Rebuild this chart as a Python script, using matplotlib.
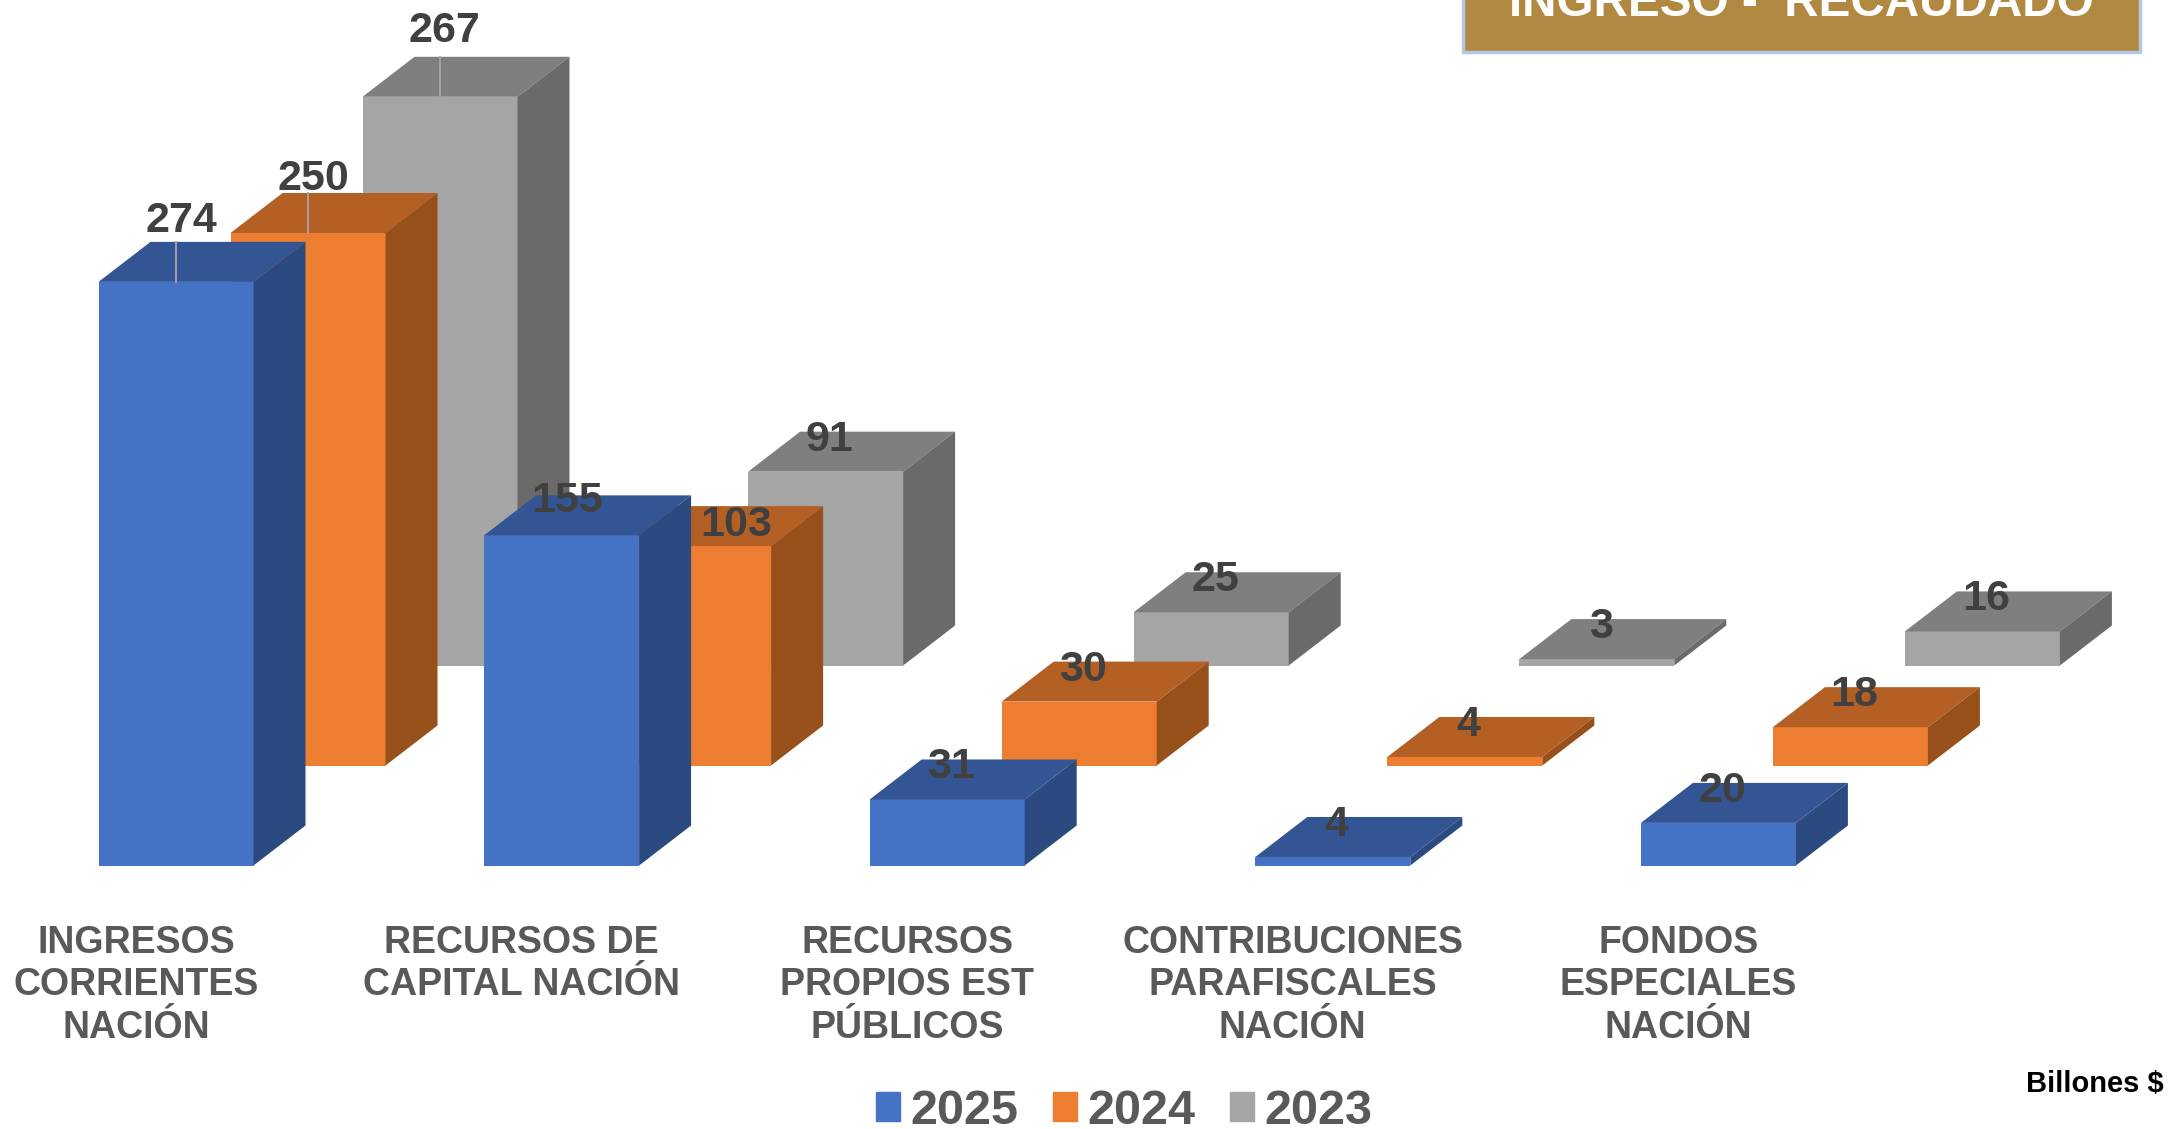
import matplotlib
matplotlib.use('Agg')
import numpy as np
import matplotlib.pyplot as plt
from matplotlib.patches import Patch, Rectangle

plt.rcParams['font.family'] = ['Liberation Sans', 'DejaVu Sans']

categorias = ['INGRESOS\nCORRIENTES\nNACIÓN', 'RECURSOS DE\nCAPITAL NACIÓN',
              'RECURSOS\nPROPIOS EST\nPÚBLICOS', 'CONTRIBUCIONES\nPARAFISCALES\nNACIÓN',
              'FONDOS\nESPECIALES\nNACIÓN']
anios = ['2025', '2024', '2023']
v2025 = [274, 155, 31, 4, 20]
v2024 = [250, 103, 30, 4, 18]
v2023 = [267, 91, 25, 3, 16]
titulo = 'INGRESO -  RECAUDADO'
unidad = 'Billones $'

W, H = 2183, 1129
px_x = 385.6    # pixels per category
px_y = 2.13     # pixels per billion
x0, y0 = 176, 865.5  # where category 0, value 0 of the front series falls

ancho = 155 / px_x
dx = 52 / px_x   # depth of the fake 3d
dy = 40 / px_y
paso_x = 132 / px_x   # shift between series
paso_y = 100 / px_y

colores = [('#4472C4', '#335593', '#2B4A80'),
           ('#ED7D31', '#B46024', '#98501B'),
           ('#A5A5A5', '#7F7F7F', '#6A6A6A')]

fig = plt.figure(figsize=(W / 100, H / 100), dpi=100)
ax = fig.add_axes([0, 0, 1, 1])
ax.set_xlim(-x0 / px_x, (W - x0) / px_x)
ax.set_ylim(-(H - y0) / px_y, y0 / px_y)
ax.axis('off')

series = [v2025, v2024, v2023]
# label nudges (dx, extra height) in pixels, for the labels moved by hand in the original
ajustes = {(0, 0): (5, 29), (1, 0): (5, 22), (2, 0): (4, 34), (1, 1): (43, -11), (0, 1): (6, 2)}

# back series first so the front one covers it
for s in [2, 1, 0]:
    frente, arriba, lado = colores[s]
    xs = np.arange(len(categorias)) + s * paso_x
    base = s * paso_y
    vals = np.array(series[s])
    ax.bar(xs, vals, ancho, bottom=base, color=frente, zorder=3 + (2 - s))
    for x, v in zip(xs, vals):
        iz, de = x - ancho / 2, x + ancho / 2
        techo = base + v
        ax.fill([iz, de, de + dx, iz + dx], [techo, techo, techo + dy, techo + dy],
                color=arriba, lw=0, zorder=3 + (2 - s))
        ax.fill([de, de + dx, de + dx, de], [base, base + dy, techo + dy, techo],
                color=lado, lw=0, zorder=3 + (2 - s))

for s in range(3):
    xs = np.arange(len(categorias)) + s * paso_x
    base = s * paso_y
    for c, v in enumerate(series[s]):
        nx, ny = ajustes.get((s, c), (4, 0))
        techo = base + v
        ytxt = techo + (32 + ny) / px_y
        if c == 0:
            ax.plot([xs[c], xs[c]], [techo, techo + dy], color='#A6A6A6', lw=1.3, zorder=9)
        ax.text(xs[c] + nx / px_x, ytxt, str(v), ha='center', va='center', fontsize=31,
                fontweight='bold', color='#404040', zorder=10)

for i, cat in enumerate(categorias):
    ax.text(i - 40 / px_x, -(925 - y0) / px_y, cat, ha='center', va='top', fontsize=27,
            fontweight='bold', color='#595959', linespacing=1.23)

manejadores = [Patch(color=colores[i][0], label=anios[i]) for i in range(3)]
fig.legend(handles=manejadores, loc='center', bbox_to_anchor=(1124 / W, 1 - 1111 / H), ncol=3,
           frameon=False, prop={'size': 35, 'weight': 'bold'}, labelcolor='#595959',
           handlelength=0.5, handleheight=0.55, handletextpad=0.2, columnspacing=0.72,
           borderpad=0, borderaxespad=0)

fig.add_artist(Rectangle((1463 / W, 1 - 52 / H), 677 / W, 60 / H, transform=fig.transFigure,
                         facecolor='#B08840', edgecolor='#B4C7E7', lw=2.5))
fig.text(1801 / W, 1 - 16 / H, titulo, ha='center', va='baseline', fontsize=34.3,
         fontweight='bold', color='white')
fig.text(2164 / W, 1 - 1084 / H, unidad, ha='right', va='center', fontsize=21,
         fontweight='bold', color='black')

fig.savefig('out.png', dpi=100)
